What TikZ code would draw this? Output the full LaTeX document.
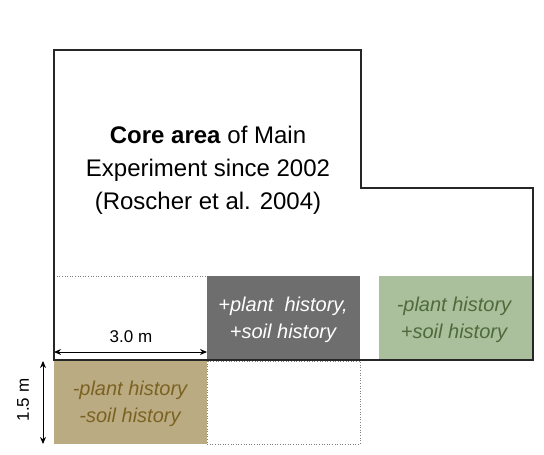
\documentclass[tikz,border=0pt]{standalone}
\usepackage{fontspec}
\setmainfont{Liberation Sans}
\usetikzlibrary{arrows.meta}
\definecolor{gbox}{HTML}{6E6E6E}
\definecolor{greenbox}{HTML}{AABF9C}
\definecolor{greentext}{HTML}{4F6B3C}
\definecolor{tanbox}{HTML}{BBAB82}
\definecolor{tantext}{HTML}{7A6322}
\tikzset{
  outline/.style={draw=black!85,line width=1.1pt},
  dotbox/.style={draw=gray,dotted,line width=0.6pt},
  lbl/.style={align=center,font=\fontsize{20}{27}\selectfont\itshape,inner sep=0pt},
  dim/.style={{Stealth[length=7pt,width=6pt]}-{Stealth[length=7pt,width=6pt]},line width=1pt,black},
}
\begin{document}
\begin{tikzpicture}[x=1pt,y=-1pt]
\useasboundingbox (0,0) rectangle (544,455);
% cells
\draw[dotbox] (54,276) rectangle (207,360);
\fill[gbox] (207,276) rectangle (360,360);
\fill[greenbox] (379,276) rectangle (533,360);
\fill[tanbox] (54,361) rectangle (207,444);
\draw[dotbox] (207,361) rectangle (360,444);
% outline
\draw[outline] (54,360) -- (54,50) -- (361,50) -- (361,188) -- (533,188) -- (533,360) -- cycle;
% texts
\node[align=center,font=\fontsize{24}{33}\selectfont,inner sep=0pt] (core) at (208,170)
  {\textbf{Core area} of Main\\Experiment since 2002\\(Roscher et al. 2004)};
\node[lbl,text=white] (pp) at (283,320) {+plant\ \ history,\\+soil history};
\node[lbl,text=greentext] (mp) at (454,320) {-plant history\\+soil history};
\node[lbl,text=tantext] (mm) at (130,404) {-plant history\\-soil history};
% dimensions
\coordinate (h1) at (54,352);
\coordinate (h2) at (207,352);
\draw[dim] (h1) -- (h2);
\node[font=\fontsize{17}{19}\selectfont,inner sep=0pt] (hl) at (131,337) {3.0 m};
\coordinate (v1) at (43,361);
\coordinate (v2) at (43,444);
\draw[dim] (v1) -- (v2);
\node[font=\fontsize{17}{19}\selectfont,rotate=90,inner sep=0pt] (vl) at (23,400) {1.5 m};
\end{tikzpicture}
\end{document}
